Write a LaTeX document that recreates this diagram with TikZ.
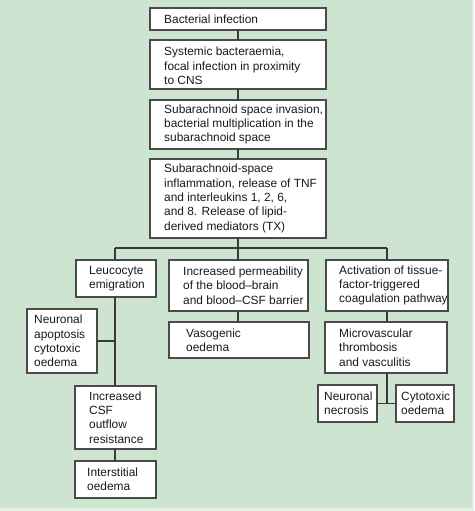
\documentclass[tikz,border=0pt]{standalone}
\usepackage{fontspec}
\setmainfont{Liberation Sans}
\definecolor{bg}{HTML}{CDE4D0}
\definecolor{edge}{HTML}{E4F0E5}
\definecolor{boxline}{HTML}{4A4A4A}
\definecolor{conn}{HTML}{3A3A3A}
\definecolor{txt}{HTML}{1A1A1A}
\tikzset{
  box/.style={draw=boxline, line width=1.4pt, fill=white, inner sep=0pt, outer sep=0pt},
  lbl/.style={anchor=west, inner sep=0pt, align=left, text=txt,
    font=\fontsize{11.9pt}{14.3pt}\selectfont},
  link/.style={draw=conn, line width=1.1pt}
}
\begin{document}
\begin{tikzpicture}[x=1pt,y=-1pt]
\useasboundingbox (0,0) rectangle (474,511);
\fill[bg] (0,0) rectangle (474,511);
\fill[edge] (0,508) rectangle (474,511);
\fill[edge] (472,0) rectangle (474,511);
% boxes
\node[box, minimum width=176pt, minimum height=22pt] (b1) at (238,19) {};
\node[lbl] (b1t) at ([xshift=14pt]b1.west) {Bacterial infection};
\node[box, minimum width=176pt, minimum height=49pt] (b2) at (238,64.5) {};
\node[lbl] (b2t) at ([xshift=14pt,yshift=-1.5pt]b2.west) {Systemic bacteraemia,\\focal infection in proximity\\to CNS};
\node[box, minimum width=176pt, minimum height=49pt] (b3) at (238,124.5) {};
\node[lbl] (b3t) at ([xshift=14pt]b3.west) {Subarachnoid space invasion,\\bacterial multiplication in the\\subarachnoid space};
\node[box, minimum width=176pt, minimum height=79pt] (b4) at (238,198.5) {};
\node[lbl] (b4t) at ([xshift=14pt]b4.west) {Subarachnoid-space\\inflammation, release of TNF\\and interleukins 1, 2, 6,\\and 8. Release of lipid-\\derived mediators (TX)};
\node[box, minimum width=80pt, minimum height=37pt] (leuco) at (116,278.5) {};
\node[lbl] (leucot) at ([xshift=13pt]leuco.west) {Leucocyte\\emigration};
\node[box, minimum width=139pt, minimum height=51pt] (perm) at (238.5,285.5) {};
\node[lbl] (permt) at ([xshift=14pt]perm.west) {Increased permeability\\of the blood--brain\\and blood--CSF barrier};
\node[box, minimum width=122pt, minimum height=51pt] (act) at (387,285.5) {};
\node[lbl] (actt) at ([xshift=13pt]act.west) {Activation of tissue-\\factor-triggered\\coagulation pathway};
\node[box, minimum width=140pt, minimum height=36pt] (vaso) at (239,340) {};
\node[lbl] (vasot) at ([xshift=17pt]vaso.west) {Vasogenic\\oedema};
\node[box, minimum width=122pt, minimum height=51pt] (micro) at (386,347.5) {};
\node[lbl] (microt) at ([xshift=14pt]micro.west) {Microvascular\\thrombosis\\and vasculitis};
\node[box, minimum width=59pt, minimum height=37pt] (necr) at (347.5,403.5) {};
\node[lbl] (necrt) at ([xshift=6pt]necr.west) {Neuronal\\necrosis};
\node[box, minimum width=58pt, minimum height=37pt] (cyto) at (425,403.5) {};
\node[lbl] (cytot) at ([xshift=5pt]cyto.west) {Cytotoxic\\oedema};
\node[box, minimum width=70pt, minimum height=64pt] (apop) at (62,341) {};
\node[lbl] (apopt) at ([xshift=7pt]apop.west) {Neuronal\\apoptosis\\cytotoxic\\oedema};
\node[box, minimum width=81pt, minimum height=63pt] (csf) at (115.5,417.5) {};
\node[lbl] (csft) at ([xshift=14pt]csf.west) {Increased\\CSF\\outflow\\resistance};
\node[box, minimum width=81pt, minimum height=37pt] (inter) at (115.5,479.5) {};
\node[lbl] (intert) at ([xshift=12pt]inter.west) {Interstitial\\oedema};
% connectors
\coordinate (barL) at (115,248);
\coordinate (barR) at (387,248);
\draw[link] (b1.south) -- (b2.north);
\draw[link] (b2.south) -- (b3.north);
\draw[link] (b3.south) -- (b4.north);
\draw[link] (b4.south) -- (b4.south |- perm.north);
\draw[link] (barL) -- (barR);
\draw[link] (barL) -- (barL |- leuco.north);
\draw[link] (barR) -- (act.north);
\draw[link] (leuco.south -| barL) -- (barL |- csf.north);
\draw[link] (apop.east) -- (apop.east -| barL);
\draw[link] (csf.south -| barL) -- (barL |- inter.north);
\draw[link] (perm.south -| b4.south) -- (b4.south |- vaso.north);
\draw[link] (act.south -| barR) -- (barR |- micro.north);
\draw[link] (micro.south -| barR) -- (barR |- necr.east);
\draw[link] (necr.east) -- (cyto.west);
\end{tikzpicture}
\end{document}
